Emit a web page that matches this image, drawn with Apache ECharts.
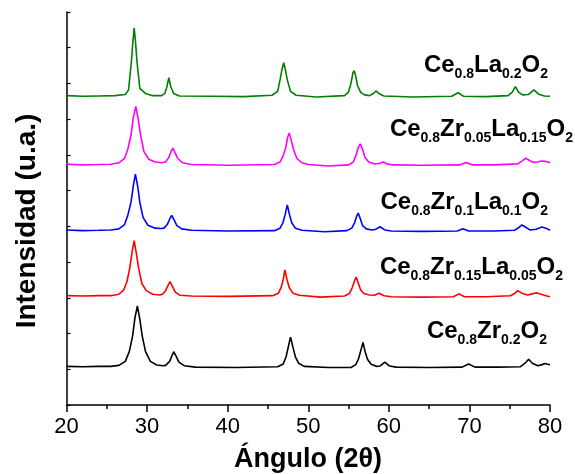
<!DOCTYPE html>
<html>
<head>
<meta charset="utf-8">
<script src="https://cdn.jsdelivr.net/npm/echarts@6/dist/echarts.min.js"></script>
<style>
  html, body { margin: 0; padding: 0; background: #fff; }
  #chart { width: 575px; height: 474px; }
</style>
</head>
<body>
<div id="chart"></div>
<script>
// patrones DRX, ya desplazados verticalmente (eje en u.a.)
const ceZr02 = [[20,1.08],[22,1.07],[24,1.08],[25.5,1.08],[26.5,1.11],[27.3,1.22],[27.8,1.5],[28.2,1.93],[28.5,2.45],[28.8,2.77],[29.1,2.4],[29.4,1.93],[29.8,1.5],[30.4,1.22],[31.2,1.12],[32,1.1],[32.3,1.11],[32.8,1.22],[33.05,1.36],[33.3,1.49],[33.6,1.37],[33.95,1.2],[34.6,1.1],[36,1.06],[41,1.05],[46.2,1.07],[46.9,1.15],[47.25,1.35],[47.55,1.65],[47.8,1.9],[48.1,1.62],[48.4,1.35],[48.8,1.17],[49.5,1.08],[52.5,1.05],[55.3,1.05],[55.9,1.13],[56.25,1.3],[56.55,1.55],[56.8,1.75],[57.05,1.5],[57.35,1.28],[57.8,1.14],[58.5,1.08],[58.9,1.09],[59.5,1.2],[60.1,1.09],[60.9,1.06],[65,1.05],[69.1,1.06],[69.9,1.15],[70.7,1.06],[73.5,1.06],[76.3,1.07],[76.9,1.17],[77.35,1.28],[77.8,1.17],[78.5,1.1],[79,1.13],[79.4,1.16],[79.7,1.14],[80,1.13]]
const ceZr015La005 = [[20,3.06],[22,3.05],[24,3.06],[25.5,3.06],[26.5,3.1],[27.1,3.22],[27.5,3.45],[27.85,3.83],[28.15,4.3],[28.4,4.6],[28.7,4.2],[28.95,3.83],[29.35,3.4],[29.9,3.2],[30.7,3.1],[31.6,3.08],[31.9,3.1],[32.3,3.2],[32.6,3.35],[32.85,3.45],[33.15,3.32],[33.5,3.16],[34.1,3.07],[35.5,3.05],[40,3.04],[45.6,3.06],[46.3,3.13],[46.65,3.3],[46.9,3.52],[47.1,3.78],[47.35,3.52],[47.65,3.28],[48.1,3.13],[48.9,3.07],[51.5,3.02],[54.5,3.05],[55.1,3.12],[55.45,3.28],[55.75,3.48],[55.95,3.58],[56.2,3.42],[56.5,3.22],[56.9,3.12],[57.6,3.08],[58.2,3.07],[58.8,3.13],[59.4,3.06],[60.3,3.03],[64,3.02],[68,3.03],[68.7,3.11],[69.4,3.03],[72,3.03],[75.1,3.06],[75.6,3.12],[76,3.2],[76.5,3.13],[77.2,3.08],[77.8,3.11],[78.3,3.14],[78.9,3.1],[79.5,3.06],[80,3.03]]
const ceZr01La01 = [[20,4.9],[22,4.88],[24,4.89],[25.5,4.9],[26.5,4.93],[27.2,5.05],[27.6,5.3],[28,5.67],[28.3,6.15],[28.55,6.46],[28.85,6.1],[29.1,5.67],[29.5,5.25],[30.1,5.03],[31,4.95],[31.8,4.94],[32.1,4.95],[32.5,5.05],[32.8,5.2],[33.05,5.31],[33.35,5.18],[33.7,5.02],[34.3,4.93],[35.5,4.89],[40,4.87],[45.8,4.88],[46.5,4.95],[46.85,5.1],[47.1,5.3],[47.4,5.6],[47.65,5.35],[47.95,5.1],[48.4,4.95],[49.2,4.89],[52,4.85],[54.8,4.88],[55.4,4.95],[55.75,5.1],[56,5.28],[56.2,5.37],[56.45,5.22],[56.75,5.02],[57.2,4.93],[57.9,4.9],[58.3,4.91],[58.9,4.99],[59.5,4.9],[60.3,4.87],[64,4.86],[68.5,4.87],[69.2,4.93],[69.9,4.87],[73,4.87],[75.6,4.89],[76.1,4.96],[76.5,5.04],[76.9,4.99],[77.5,4.9],[78.3,4.92],[79,4.98],[79.5,4.95],[80,4.89]]
const ceZr005La015 = [[20,6.74],[22,6.72],[24,6.73],[25.5,6.74],[26.5,6.78],[27.2,6.9],[27.6,7.15],[28,7.55],[28.3,8.05],[28.6,8.36],[28.9,8.0],[29.2,7.55],[29.6,7.1],[30.2,6.88],[31,6.8],[31.8,6.78],[32.3,6.8],[32.7,6.93],[32.95,7.08],[33.2,7.19],[33.5,7.05],[33.8,6.9],[34.4,6.78],[35.5,6.73],[40,6.71],[45.8,6.73],[46.5,6.8],[46.9,6.98],[47.2,7.2],[47.45,7.5],[47.65,7.61],[47.9,7.4],[48.2,7.13],[48.6,6.9],[49.2,6.78],[50,6.73],[52.5,6.69],[55,6.72],[55.6,6.8],[55.95,7.0],[56.2,7.2],[56.45,7.31],[56.75,7.15],[57.05,6.93],[57.5,6.8],[58.2,6.75],[58.8,6.76],[59.3,6.8],[59.8,6.75],[60.5,6.72],[64,6.71],[68.8,6.72],[69.6,6.79],[70.4,6.72],[73,6.72],[76,6.75],[76.6,6.84],[77,6.91],[77.4,6.85],[77.9,6.79],[78.4,6.8],[79,6.83],[79.4,6.82],[80,6.78]]
const ceLa02 = [[20,8.66],[22,8.64],[24,8.65],[26,8.66],[27.3,8.69],[27.7,8.82],[28.05,9.6],[28.25,10.2],[28.4,10.56],[28.55,10.2],[28.75,9.6],[29.1,8.86],[29.8,8.72],[30.6,8.66],[31.8,8.66],[32.2,8.72],[32.45,8.9],[32.7,9.16],[32.95,8.9],[33.3,8.72],[34,8.65],[38,8.64],[42,8.63],[45.5,8.67],[46.2,8.78],[46.5,9.1],[46.75,9.4],[46.95,9.58],[47.15,9.4],[47.4,9.1],[47.8,8.78],[48.5,8.67],[51,8.62],[54.5,8.66],[55,8.76],[55.3,9.0],[55.55,9.3],[55.7,9.36],[55.9,9.2],[56.1,8.95],[56.5,8.75],[57,8.68],[57.6,8.66],[58.1,8.72],[58.4,8.79],[58.8,8.71],[59.4,8.65],[63,8.62],[67.8,8.64],[68.6,8.74],[69.3,8.64],[72,8.63],[74.8,8.66],[75.3,8.75],[75.7,8.91],[76.1,8.76],[76.6,8.68],[77.3,8.69],[78,8.82],[78.6,8.7],[79.3,8.65],[80,8.64]]

// nombres de muestra (texto enriquecido: m = normal, s = subindice)
const sampleNames = [
  '{m|Ce}{s|0.8}{m|Zr}{s|0.2}{m|O}{s|2}',
  '{m|Ce}{s|0.8}{m|Zr}{s|0.15}{m|La}{s|0.05}{m|O}{s|2}',
  '{m|Ce}{s|0.8}{m|Zr}{s|0.1}{m|La}{s|0.1}{m|O}{s|2}',
  '{m|Ce}{s|0.8}{m|Zr}{s|0.05}{m|La}{s|0.15}{m|O}{s|2}',
  '{m|Ce}{s|0.8}{m|La}{s|0.2}{m|O}{s|2}'
]
const xTicks = [20, 30, 40, 50, 60, 70, 80]

const patterns = [ceZr02, ceZr015La005, ceZr01La01, ceZr005La015, ceLa02]
const colors = ['#000000', '#ff0000', '#0000ff', '#ff00ff', '#008000']
// posicion de las etiquetas (borde derecho, centro vertical)
const labelPos = [[547, 331], [563, 267], [548, 202], [573, 129], [548, 65]]

const chart = echarts.init(document.getElementById('chart'))
const font = 'Liberation Sans, Arial, sans-serif'

const option = {
  animation: false,
  grid: { left: 66.5, right: 25, top: 12, bottom: 69 },
  xAxis: {
    type: 'value',
    min: xTicks[0],
    max: xTicks[xTicks.length - 1],
    interval: 10,
    axisLine: { lineStyle: { color: '#000', width: 1.5 } },
    axisTick: { show: true, inside: false, length: 7, lineStyle: { color: '#000', width: 1.5 } },
    minorTick: { show: true, splitNumber: 2, length: 4, lineStyle: { color: '#000', width: 1.5 } },
    splitLine: { show: false },
    axisLabel: { color: '#000', fontSize: 22, fontFamily: font, margin: 11 }
  },
  yAxis: {
    type: 'value',
    min: 0,
    max: 11,
    interval: 1,
    axisLine: { show: true, lineStyle: { color: '#000', width: 1.5 } },
    axisTick: { show: true, inside: true, length: 4, lineStyle: { color: '#000', width: 1.2 } },
    axisLabel: { show: false },
    splitLine: { show: false }
  },
  series: patterns.map((d, i) => ({
    type: 'line',
    data: d,
    showSymbol: false,
    lineStyle: { color: colors[i], width: 1.6 },
    silent: true
  })),
  graphic: [
    {
      type: 'text',
      x: 308, y: 460,
      style: {
        text: 'Ángulo (2θ)', fill: '#000',
        font: 'bold 27px ' + font,
        textAlign: 'center', textVerticalAlign: 'middle'
      }
    },
    {
      type: 'text',
      x: 27.5, y: 221,
      rotation: Math.PI / 2,
      style: {
        text: 'Intensidad (u.a.)', fill: '#000',
        font: 'bold 28px ' + font,
        textAlign: 'center', textVerticalAlign: 'middle'
      }
    }
  ].concat(sampleNames.map((t, i) => ({
    type: 'text',
    x: labelPos[i][0], y: labelPos[i][1],
    style: {
      text: t,
      textAlign: 'right',
      textVerticalAlign: 'middle',
      rich: {
        m: { fontSize: 24, fontWeight: 'bold', fontFamily: font, fill: '#000', lineHeight: 32 },
        s: { fontSize: 14, fontWeight: 'bold', fontFamily: font, fill: '#000', lineHeight: 14, verticalAlign: 'bottom' }
      }
    }
  })))
}

chart.setOption(option)
window.addEventListener('resize', function () {
  chart.resize()
})
</script>
</body>
</html>
